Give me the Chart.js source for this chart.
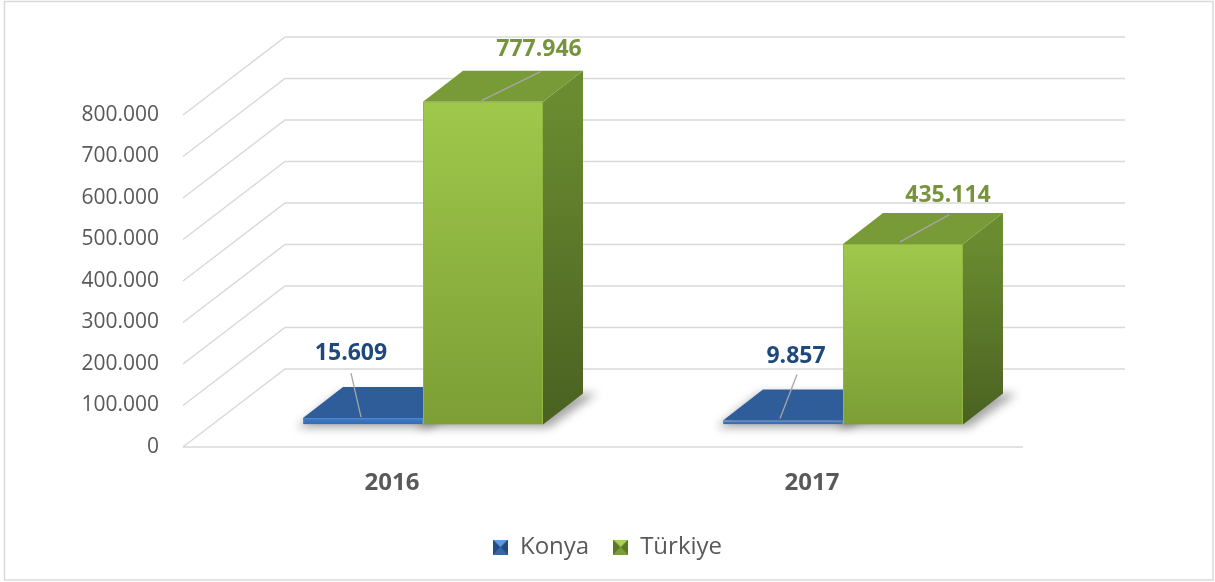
<!DOCTYPE html>
<html>
<head>
<meta charset="utf-8">
<script src="https://cdn.jsdelivr.net/npm/chart.js@4.4.1/dist/chart.umd.min.js"></script>
<style>
    html, body { margin: 0; padding: 0; background: #fff; }
    canvas { display: block; }
</style>
</head>
<body>
<canvas id="grafico" width="1215" height="582"></canvas>
<script>
const anos = ["2016", "2017"];
const konya = [15609, 9857];
const turkiye = [777946, 435114];
const ticksY = [0, 100000, 200000, 300000, 400000, 500000, 600000, 700000, 800000];

const FONTE = "'Open Sans', 'Noto Sans', sans-serif";
const CINZA = "#595959";
const GRADE = "#d9d9d9";

// deslocamentos do efeito 3D (plano das barras -> frente / fundo / topo)
const FRENTE = { x: -30, y: 22.5 };
const FUNDO = { x: 72, y: -55.5 };
const PROF = { x: 40, y: -31 };

const cores = [
    { frente: ["#3f7dca", "#3569ad"], topo: "#2e5d99", lado: ["#2a5289", "#1f3f6b"], borda: "#4b88d2", texto: "#1f497d" },
    { frente: ["#9fc84b", "#7c9e35"], topo: "#789b37", lado: ["#6a8b30", "#4a6121"], borda: "#8fb843", texto: "#77933c" }
];

// posição manual dos rótulos: [x0, y0, x1, y1] da linha e [x, y] do texto, relativos ao topo da barra
const rotulos = [
    [{ linha: [-2, -1, -12, -45], texto: [-12, -65] }, { linha: [-3, -2, 14, -46], texto: [13, -64] }],
    [{ linha: [-1.5, -1, 57.5, -30], texto: [56, -52] }, { linha: [-3, -2, 46, -29], texto: [45, -48] }]
];

function fmt(v) {
    return String(v).replace(/\B(?=(\d{3})+(?!\d))/g, ".");
}

function degrade(i) {
    return c => {
        const y = c.chart.scales.y;
        if (!c.chart.chartArea || !y || !c.parsed) return cores[i].frente[0];
        const g = c.chart.ctx.createLinearGradient(0, y.getPixelForValue(c.parsed.y), 0, y.getPixelForValue(0));
        g.addColorStop(0, cores[i].frente[0]);
        g.addColorStop(1, cores[i].frente[1]);
        return g;
    };
}

function icone(claro, medio, escuro) {
    const c = document.createElement("canvas");
    c.width = 15; c.height = 15;
    const g = c.getContext("2d");
    g.fillStyle = medio; g.fillRect(0, 0, 15, 15);
    g.fillStyle = escuro;
    g.beginPath(); g.moveTo(0, 0); g.lineTo(7.5, 7.5); g.lineTo(0, 15); g.fill();
    g.beginPath(); g.moveTo(15, 0); g.lineTo(7.5, 7.5); g.lineTo(15, 15); g.fill();
    g.fillStyle = claro;
    g.beginPath(); g.moveTo(0, 0); g.lineTo(15, 0); g.lineTo(7.5, 7.5); g.fill();
    return c;
}
const icones = [icone("#5b9be0", "#3568a8", "#244a80"), icone("#a9d15a", "#7c9e35", "#5a7627")];

function poligono(ctx, pts, fill) {
    ctx.beginPath();
    ctx.moveTo(pts[0][0], pts[0][1]);
    pts.slice(1).forEach(p => ctx.lineTo(p[0], p[1]));
    ctx.closePath();
    ctx.fillStyle = fill;
    ctx.fill();
}

function caixaBarra(bar) {
    const { x, y, base, width } = bar.getProps(["x", "y", "base", "width"], true);
    return { x0: x - width / 2, x1: x + width / 2, cx: x, topo: y, base };
}

const paredes = {
    id: "paredes",
    beforeDraw(chart) {
        const { ctx, width, height } = chart;
        ctx.save();
        ctx.fillStyle = "#fff";
        ctx.fillRect(0, 0, width, height);
        ctx.strokeStyle = GRADE;
        ctx.lineWidth = 1.5;
        ctx.strokeRect(4.5, 1.5, width - 6.5, height - 3.5);
        ctx.restore();
    },
    beforeDatasetsDraw(chart) {
        const { ctx, chartArea: a, scales: { y } } = chart;
        ctx.save();
        ctx.strokeStyle = GRADE;
        ctx.lineWidth = 1.5;
        ticksY.forEach(v => {
            const p = y.getPixelForValue(v);
            ctx.beginPath();
            ctx.moveTo(a.left + FRENTE.x, p + FRENTE.y);
            ctx.lineTo(a.left + FUNDO.x, p + FUNDO.y);
            ctx.lineTo(a.right + FUNDO.x, p + FUNDO.y);
            ctx.stroke();
        });
        const p0 = y.getPixelForValue(0);
        ctx.beginPath();
        ctx.moveTo(a.left + FRENTE.x, p0 + FRENTE.y);
        ctx.lineTo(a.right + FRENTE.x, p0 + FRENTE.y);
        ctx.stroke();

        // sombra no piso
        ctx.filter = "blur(5px)";
        chart.data.datasets.forEach((ds, i) => {
            chart.getDatasetMeta(i).data.forEach(bar => {
                const b = caixaBarra(bar);
                poligono(ctx, [
                    [b.x0 - 6, b.base + 3], [b.x1 + 6, b.base + 3],
                    [b.x1 + PROF.x + 14, b.base + PROF.y], [b.x0 + PROF.x - 4, b.base + PROF.y]
                ], "rgba(0,0,0,0.35)");
            });
        });
        ctx.restore();
    },
    afterDatasetsDraw(chart) {
        const { ctx } = chart;
        ctx.save();
        chart.data.datasets.forEach((ds, i) => {
            const meta = chart.getDatasetMeta(i);
            // a série da direita precisa cobrir as faces da série anterior
            if (i > 0) meta.data.forEach(bar => bar.draw(ctx, chart.chartArea));
            meta.data.forEach(bar => {
                const b = caixaBarra(bar);
                const c = cores[i];
                const g = ctx.createLinearGradient(0, b.topo, 0, b.base);
                g.addColorStop(0, c.lado[0]);
                g.addColorStop(1, c.lado[1]);
                poligono(ctx, [
                    [b.x1, b.topo], [b.x1 + PROF.x, b.topo + PROF.y],
                    [b.x1 + PROF.x, b.base + PROF.y], [b.x1, b.base]
                ], g);
                poligono(ctx, [
                    [b.x0, b.topo], [b.x1, b.topo],
                    [b.x1 + PROF.x, b.topo + PROF.y], [b.x0 + PROF.x, b.topo + PROF.y]
                ], c.topo);
            });
        });
        ctx.restore();
    },
    afterDraw(chart) {
        const { ctx } = chart;
        ctx.save();
        ctx.textAlign = "center";
        ctx.textBaseline = "middle";
        ctx.font = `bold 23px ${FONTE}`;
        chart.data.datasets.forEach((ds, i) => {
            chart.getDatasetMeta(i).data.forEach((bar, j) => {
                const b = caixaBarra(bar);
                const r = rotulos[i][j];
                ctx.strokeStyle = "#a6a6a6";
                ctx.lineWidth = 1.3;
                ctx.beginPath();
                ctx.moveTo(b.cx + r.linha[0], b.topo + r.linha[1]);
                ctx.lineTo(b.cx + r.linha[2], b.topo + r.linha[3]);
                ctx.stroke();
                ctx.fillStyle = cores[i].texto;
                ctx.fillText(fmt(ds.data[j]), b.cx + r.texto[0], b.topo + r.texto[1]);
            });
        });
        ctx.restore();
    }
};

Chart.defaults.font.family = FONTE;
Chart.defaults.color = CINZA;

new Chart(document.getElementById("grafico"), {
    type: "bar",
    data: {
        labels: anos,
        datasets: [
            { label: "Konya", data: konya, backgroundColor: degrade(0), borderColor: cores[0].borda, borderWidth: 1 },
            { label: "Türkiye", data: turkiye, backgroundColor: degrade(1), borderColor: cores[1].borda, borderWidth: 1 }
        ]
    },
    options: {
        responsive: false,
        animation: false,
        layout: { padding: { left: 0, top: 92.5, right: 0, bottom: 13 } },
        datasets: { bar: { categoryPercentage: 0.5714, barPercentage: 1 } },
        scales: {
            x: {
                grid: { display: false, drawTicks: false },
                border: { display: false },
                ticks: { color: CINZA, font: { size: 24, weight: "bold" }, padding: 44, labelOffset: -31 },
                afterFit: s => { s.height = 86.5; }
            },
            y: {
                min: ticksY[0],
                max: ticksY[ticksY.length - 1],
                grid: { display: false, drawTicks: false },
                border: { display: false },
                ticks: {
                    stepSize: ticksY[1] - ticksY[0],
                    color: CINZA,
                    font: { size: 21 },
                    padding: 54,
                    labelOffset: 22.5,
                    callback: v => fmt(v)
                },
                afterFit: s => { s.width = 213; }
            },
            // eixo vazio à direita, só reserva espaço para a parede do fundo
            direita: {
                type: "linear",
                position: "right",
                grid: { display: false, drawTicks: false },
                border: { display: false },
                ticks: { display: false },
                afterFit: s => { s.width = 162; }
            }
        },
        plugins: {
            tooltip: { enabled: false },
            legend: {
                position: "bottom",
                labels: {
                    color: CINZA,
                    font: { size: 24 },
                    usePointStyle: true,
                    boxWidth: 15,
                    boxHeight: 15,
                    padding: 24,
                    generateLabels(chart) {
                        const itens = Chart.defaults.plugins.legend.labels.generateLabels(chart);
                        itens.forEach((it, i) => { it.pointStyle = icones[i]; });
                        return itens;
                    }
                }
            }
        }
    },
    plugins: [paredes]
});
</script>
</body>
</html>
